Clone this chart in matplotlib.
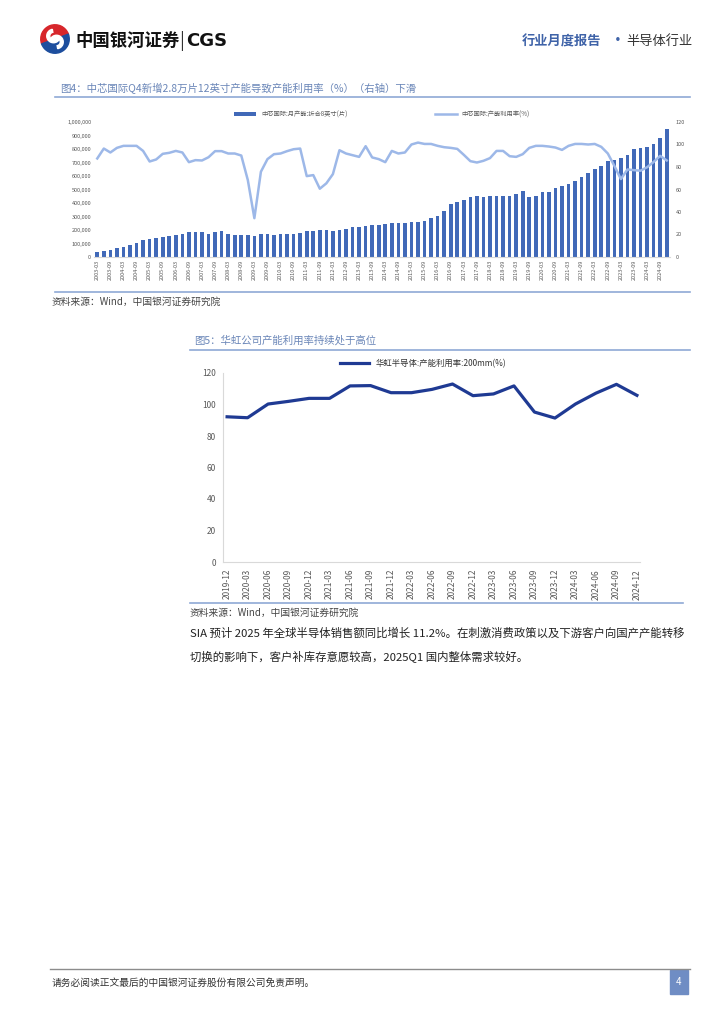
import matplotlib
matplotlib.use("Agg")
import matplotlib.pyplot as plt
import matplotlib.patches as mpatches
from matplotlib.lines import Line2D
import numpy as np

plt.rcParams['font.family'] = ['Noto Sans CJK SC', 'DejaVu Sans']

# ---- chart 1: SMIC quarterly capacity (8-inch equiv.) and utilization ----
smic_quarters = [f"{y}-{m}" for y in range(2003, 2025) for m in ("03", "06", "09", "12")]
smic_capacity = [
    34000, 47000, 54000, 64000, 71000, 86000, 103000, 123000, 135000, 142000,
    147000, 157000, 162000, 172000, 182000, 187000, 182000, 174000, 184000, 189000,
    172000, 160000, 160000, 165000, 157000, 167000, 170000, 165000, 170000, 167000,
    174000, 177000, 192000, 194000, 197000, 197000, 189000, 201000, 211000, 224000,
    224000, 228000, 236000, 238000, 246000, 251000, 251000, 251000, 256000, 258000,
    270000, 287000, 307000, 342000, 391000, 408000, 425000, 442000, 450000, 447000,
    450000, 450000, 452000, 452000, 467000, 486000, 445000, 450000, 479000, 482000,
    511000, 523000, 541000, 563000, 595000, 624000, 651000, 676000, 708000, 717000,
    735000, 757000, 799000, 806000, 816000, 840000, 885000, 948000,
]
smic_util = [
    87.6, 96.4, 92.9, 97.0, 98.8, 98.8, 98.8, 94.3, 84.9, 86.7,
    91.7, 92.6, 94.3, 92.9, 84.3, 86.1, 85.8, 88.7, 94.1, 94.1,
    92.0, 92.0, 90.2, 68.4, 34.5, 75.8, 87.0, 91.4, 92.0, 94.1,
    95.8, 96.4, 71.9, 72.8, 60.7, 65.5, 73.7, 94.9, 92.0, 90.5,
    89.0, 98.5, 88.5, 87.0, 84.3, 94.3, 92.0, 92.9, 100.0, 101.7,
    100.5, 100.5, 98.8, 97.6, 97.0, 96.1, 90.8, 85.2, 84.0, 85.5,
    87.9, 94.3, 94.3, 89.6, 89.0, 91.4, 97.0, 98.8, 98.8, 98.2,
    97.3, 95.2, 98.8, 100.5, 100.5, 100.0, 100.5, 97.9, 92.0, 81.0,
    69.3, 77.8, 77.2, 76.7, 79.8, 84.5, 89.9, 85.8,
]

# ---- chart 2: Hua Hong 200mm utilization ----
hh_quarters = [
    "2019-12", "2020-03", "2020-06", "2020-09", "2020-12", "2021-03", "2021-06",
    "2021-09", "2021-12", "2022-03", "2022-06", "2022-09", "2022-12", "2023-03",
    "2023-06", "2023-09", "2023-12", "2024-03", "2024-06", "2024-09", "2024-12",
]
hh_util = [
    92.2, 91.6, 100.3, 102.0, 103.9, 103.9, 111.8, 112.0, 107.5, 107.5,
    109.6, 113.0, 105.6, 106.7, 111.8, 95.2, 91.4, 100.3, 107.2, 112.8, 105.8,
]

BAR_BLUE = "#4169B8"
LINE_LIGHT = "#9DB8E8"
NAVY = "#1F3A93"
RULE_BLUE = "#8FA9D6"
TITLE_COL = "#6A86B8"
TICK_COL = "#595959"

W, H = 724, 1024
fig = plt.figure(figsize=(W / 100, H / 100), dpi=100)


def fx(px):
    return px / W


def fy(py):
    return 1 - py / H


# ---- header ----
logo = fig.add_axes([fx(40), fy(54), fx(30), 30 / H])
logo.set_xlim(-1, 1)
logo.set_ylim(-1, 1)
logo.set_aspect("equal")
logo.axis("off")
logo.add_patch(mpatches.Wedge((0, 0), 0.95, 20, 200, color="#D7262B"))
logo.add_patch(mpatches.Wedge((0, 0), 0.95, 200, 380, color="#1D4E9E"))
logo.add_patch(mpatches.Wedge((-0.1, 0.2), 0.45, 100, 330, width=0.2, color="white"))
logo.add_patch(mpatches.Wedge((0.1, -0.2), 0.45, 280, 150, width=0.2, color="white"))

fig.text(fx(75), fy(41), "中国银河证券", fontsize=12.5, fontweight="bold", va="center", color="#111111")
fig.text(fx(179), fy(41), "|", fontsize=13, va="center", color="#333333")
fig.text(fx(186), fy(41), "CGS", fontsize=13, fontweight="bold", va="center", color="#111111",
         family="DejaVu Sans")
fig.text(fx(522), fy(41), "行业月度报告", fontsize=9.5, fontweight="bold", va="center", color="#3F63A8")
fig.text(fx(611), fy(41), "·", fontsize=10, fontweight="bold", va="center", color="#3F63A8")
fig.text(fx(626), fy(41), "半导体行业", fontsize=9.5, va="center", color="#333333")


def hrule(x0, x1, y, color=RULE_BLUE, lw=1.2):
    fig.add_artist(Line2D([fx(x0), fx(x1)], [fy(y), fy(y)], color=color, lw=lw))


# ---- chart 1 ----
fig.text(fx(60), fy(89), "图4：中芯国际Q4新增2.8万片12英寸产能导致产能利用率（%）（右轴）下滑",
         fontsize=7.5, color=TITLE_COL, va="center")
hrule(55, 690, 97)

ax1 = fig.add_axes([fx(94), fy(257), fx(670 - 94), (257 - 122) / H])
x1 = np.arange(len(smic_capacity))
ax1.bar(x1, smic_capacity, width=0.55, color=BAR_BLUE, label="中芯国际:月产能:折合8英寸(片)")
ax1.set_xlim(-0.5, len(x1) - 0.5)
ax1.set_ylim(0, 1000000)
ax1.set_yticks(np.arange(0, 1000001, 100000))
ax1.set_yticklabels([f"{v:,}" for v in range(0, 1000001, 100000)])
ax1.set_xticks(x1[::2])
ax1.set_xticklabels(smic_quarters[::2], rotation=90)
for s in ("top", "right", "left"):
    ax1.spines[s].set_visible(False)
ax1.spines["bottom"].set_color("#D9D9D9")
ax1.tick_params(axis="both", length=0, labelsize=4, colors=TICK_COL, pad=2)

ax1r = ax1.twinx()
ax1r.plot(x1, smic_util, color=LINE_LIGHT, lw=1.8, label="中芯国际:产能利用率(%)")
ax1r.set_ylim(0, 120)
ax1r.set_yticks(np.arange(0, 121, 20))
for s in ("top", "right", "left", "bottom"):
    ax1r.spines[s].set_visible(False)
ax1r.tick_params(axis="y", length=0, labelsize=4, colors=TICK_COL, pad=4)

h1, l1 = ax1.get_legend_handles_labels()
h2, l2 = ax1r.get_legend_handles_labels()
ax1.legend(h1 + h2, l1 + l2, loc="lower center", bbox_to_anchor=(0.5, 1.0), ncol=2,
           fontsize=4.5, frameon=False, columnspacing=14, handlelength=3.5,
           labelcolor=TICK_COL, borderaxespad=0.2)

hrule(55, 690, 292)
fig.text(fx(52), fy(302), "资料来源：Wind，中国银河证券研究院", fontsize=7, style="italic",
         color="#444444", va="center")

# ---- chart 2 ----
fig.text(fx(194), fy(340), "图5：华虹公司产能利用率持续处于高位", fontsize=7.5, color=TITLE_COL, va="center")
hrule(190, 690, 350)

ax2 = fig.add_axes([fx(223), fy(562), fx(640 - 223), (562 - 373) / H])
x2 = np.arange(len(hh_util))
ax2.plot(x2, hh_util, color=NAVY, lw=2.3, label="华虹半导体:产能利用率:200mm(%)")
ax2.set_xlim(-0.2, len(x2) - 0.85)
ax2.set_ylim(0, 120)
ax2.set_yticks(np.arange(0, 121, 20))
ax2.set_xticks(x2)
ax2.set_xticklabels(hh_quarters, rotation=90)
for s in ("top", "right"):
    ax2.spines[s].set_visible(False)
ax2.spines["left"].set_color("#D9D9D9")
ax2.spines["bottom"].set_color("#D9D9D9")
ax2.tick_params(axis="both", length=0, labelsize=6, colors=TICK_COL, pad=5)
ax2.legend(loc="lower center", bbox_to_anchor=(0.48, 1.0), fontsize=6, frameon=False,
           handlelength=3.5, labelcolor="#333333", borderaxespad=0.2)

hrule(190, 683, 603)
fig.text(fx(190), fy(613), "资料来源：Wind，中国银河证券研究院", fontsize=7, style="italic",
         color="#444444", va="center")

body1 = "SIA 预计 2025 年全球半导体销售额同比增长 11.2%。在刺激消费政策以及下游客户向国产产能转移"
body2 = "切换的影响下，客户补库存意愿较高，2025Q1 国内整体需求较好。"
fig.text(fx(190), fy(633), body1, fontsize=8.2, color="#222222", va="center")
fig.text(fx(190), fy(656), body2, fontsize=8.2, color="#222222", va="center")

# ---- footer ----
hrule(50, 690, 969, color="#8C8C8C", lw=1.0)
fig.text(fx(52), fy(983), "请务必阅读正文最后的中国银河证券股份有限公司免责声明。", fontsize=7,
         color="#333333", va="center")
fig.add_artist(mpatches.Rectangle((fx(670), fy(994)), fx(18), 24 / H, color="#6F8DC4",
                                  transform=fig.transFigure))
fig.text(fx(679), fy(982), "4", fontsize=7, color="white", ha="center", va="center")

fig.savefig("out.png", dpi=100)
